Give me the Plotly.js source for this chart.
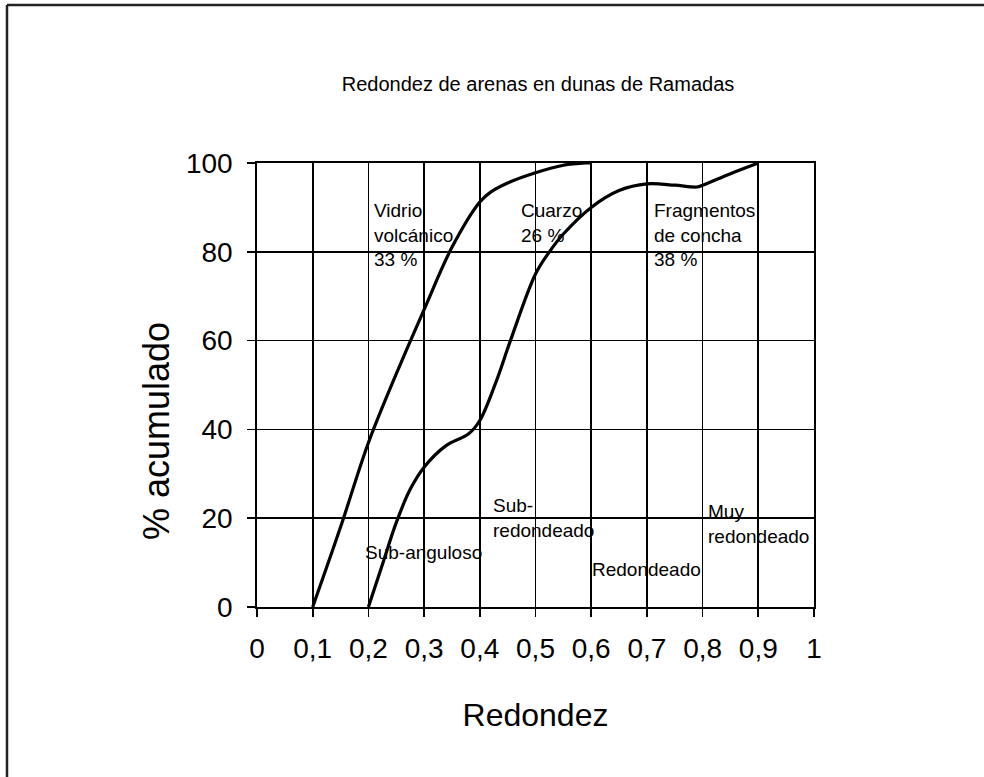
<!DOCTYPE html>
<html>
<head>
<meta charset="utf-8">
<script src="https://cdn.plot.ly/plotly-3.0.1.min.js"></script>
<style>
  html, body { margin: 0; padding: 0; background: #ffffff; }
  #chart { width: 984px; height: 777px; }
</style>
</head>
<body>
<div id="chart"></div>
<script>
// ---- data ----
const vidrioX = [0.1, 0.15, 0.2, 0.25, 0.3, 0.35, 0.4, 0.42, 0.45, 0.5, 0.55, 0.59, 0.6];
const vidrioY = [0, 18, 37, 52.5, 67, 81, 91.2, 93.5, 95.5, 97.8, 99.5, 100, 100];

const cuarzoX = [0.2, 0.225, 0.25, 0.275, 0.3, 0.34, 0.38, 0.4, 0.43, 0.455, 0.5, 0.525, 0.55, 0.6, 0.65, 0.7, 0.75, 0.79, 0.8, 0.85, 0.9];
const cuarzoY = [0, 9.5, 19, 26.5, 31.5, 36.4, 39, 42, 51, 60, 75, 80, 84, 90, 93.8, 95.3, 95, 94.6, 95, 97.6, 100];

const xTickVals = [0, 0.1, 0.2, 0.3, 0.4, 0.5, 0.6, 0.7, 0.8, 0.9, 1];
const xTickText = ["0", "0,1", "0,2", "0,3", "0,4", "0,5", "0,6", "0,7", "0,8", "0,9", "1"];
const yTickVals = [0, 20, 40, 60, 80, 100];

const labelTexts = ["Vidrio<br>volcánico<br>33 %", "Cuarzo<br>26 %", "Fragmentos<br>de concha<br>38 %",
                    "Sub-anguloso", "Sub-<br>redondeado", "Redondeado", "Muy<br>redondeado"];
const labelX = [0.206, 0.471, 0.709, 0.191, 0.42, 0.597, 0.806];
const labelY = [83.7, 86.5, 83.7, 12.2, 20.1, 8.4, 18.6];

const chartTitle = "Redondez de arenas en dunas de Ramadas";
const xTitle = "Redondez";
const yTitle = "% acumulado";

// ---- chart ----
const FONT = "'Liberation Sans', Arial, sans-serif";
const lineStyle = {color: "#000000", width: 3.2, shape: "spline", smoothing: 1};

const traces = [
  {x: vidrioX, y: vidrioY, mode: "lines", line: lineStyle, name: "Vidrio volcánico", hoverinfo: "skip"},
  {x: cuarzoX, y: cuarzoY, mode: "lines", line: lineStyle, name: "Cuarzo", hoverinfo: "skip"}
];

const L = 257, R = 170, T = 163, B = 170, W = 984, H = 777;
const pw = W - L - R, ph = H - T - B;
const px2x = p => (p - L) / pw;
const px2y = p => (H - B - p) / ph;

const annotations = labelTexts.map((t, i) => ({
  x: labelX[i], y: labelY[i], xref: "x", yref: "y",
  text: t, showarrow: false, xanchor: "left", yanchor: "middle", align: "left",
  font: {family: FONT, size: 19, color: "#000000"}
}));

// y-axis title (placed lower than the plot centre, as in the reference)
annotations.push({
  x: px2x(156), y: px2y(431), xref: "paper", yref: "paper", text: yTitle, showarrow: false,
  textangle: -90, xanchor: "center", yanchor: "middle",
  font: {family: FONT, size: 36, color: "#000000"}
});

const axisCommon = {
  showgrid: true, gridcolor: "#000000", gridwidth: 1.7,
  showline: true, linecolor: "#000000", linewidth: 1.8, mirror: true,
  ticks: "outside", ticklen: 8, tickcolor: "#000000", tickwidth: 1.6,
  zeroline: false, automargin: false,
  tickfont: {family: FONT, size: 28, color: "#000000"}
};

const layout = {
  width: W, height: H,
  margin: {l: L, r: R, t: T, b: B, pad: 0},
  paper_bgcolor: "#ffffff", plot_bgcolor: "#ffffff",
  showlegend: false,
  title: {
    text: chartTitle, xref: "container", yref: "container",
    x: 538 / W, y: 1 - 84 / H, xanchor: "center", yanchor: "middle",
    font: {family: FONT, size: 20, color: "#000000"}
  },
  xaxis: Object.assign({}, axisCommon, {
    range: [0, 1], tickvals: xTickVals, ticktext: xTickText, ticklabelstandoff: 8,
    title: {text: xTitle, standoff: 40, font: {family: FONT, size: 32, color: "#000000"}}
  }),
  yaxis: Object.assign({}, axisCommon, {
    range: [0, 100], tickvals: yTickVals, ticktext: yTickVals.map(String), ticklabelstandoff: 9
  }),
  annotations: annotations,
  shapes: [
    {type: "line", xref: "paper", yref: "paper", x0: px2x(7), y0: px2y(790), x1: px2x(7), y1: px2y(5),
     line: {color: "#222222", width: 2.5}},
    {type: "line", xref: "paper", yref: "paper", x0: px2x(7), y0: px2y(5), x1: px2x(1000), y1: px2y(5),
     line: {color: "#222222", width: 2.5}}
  ]
};

Plotly.newPlot("chart", traces, layout, {staticPlot: true, displayModeBar: false});
</script>
</body>
</html>
